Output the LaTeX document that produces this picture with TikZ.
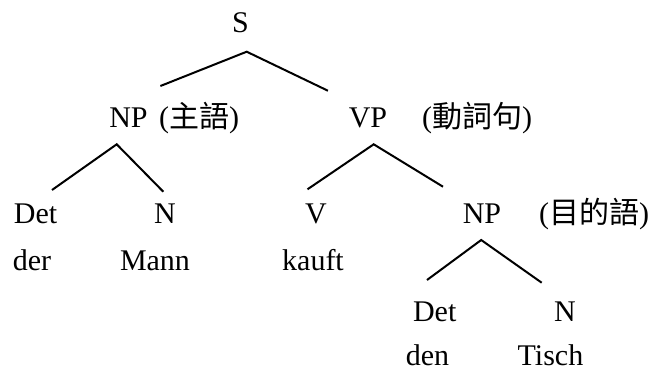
\documentclass[tikz,border=0pt]{standalone}
\usepackage{fontspec}
\setmainfont{Liberation Serif}
\newfontfamily\cjkfont{Noto Sans CJK TC}
\tikzset{
  cat/.style={anchor=base,inner sep=0pt,font=\fontsize{22.5}{27}\selectfont},
  branch/.style={line width=1.5pt},
}

\begin{document}
\begin{tikzpicture}[x=0.75pt,y=-0.75pt]
        \useasboundingbox (0,0) rectangle (651,369);
        %
        % labels
        \node[cat] (S) at (240.5,32) {S};
        \node[cat] (NPa) at (128.5,127) {NP};
        \node[cat] (NPag) at (199,127) {({\cjkfont 主語})};
        \node[cat] (VP) at (368,127) {VP};
        \node[cat] (VPg) at (477,127) {({\cjkfont 動詞句})};
        \node[cat] (Deta) at (35.5,223) {Det};
        \node[cat] (Na) at (165,223) {N};
        \node[cat] (V) at (316,223) {V};
        \node[cat] (NPb) at (482,223) {NP};
        \node[cat] (NPbg) at (594,223) {({\cjkfont 目的語})};
        \node[cat] (der) at (32,270) {der};
        \node[cat] (Mann) at (155,270) {Mann};
        \node[cat] (kauft) at (313,270) {kauft};
        \node[cat] (Detb) at (434.7,321) {Det};
        \node[cat] (Nb) at (565,321) {N};
        \node[cat] (den) at (427.5,365.5) {den};
        \node[cat] (Tisch) at (550.5,365.5) {Tisch};
        %
        % branch ends
        \coordinate (S-t) at (246.7,51.7);
        \coordinate (S-l) at (160.4,86);
        \coordinate (S-r) at (327.9,90.7);
        \coordinate (NPa-t) at (116.7,144.3);
        \coordinate (NPa-l) at (52,190);
        \coordinate (NPa-r) at (163.3,191.7);
        \coordinate (VP-t) at (373.7,144.3);
        \coordinate (VP-l) at (307.5,189.3);
        \coordinate (VP-r) at (443,186.7);
        \coordinate (NPb-t) at (481.2,240);
        \coordinate (NPb-l) at (427,280);
        \coordinate (NPb-r) at (541.7,282.7);
        %
        \draw[branch] (S-l) -- (S-t) -- (S-r);
        \draw[branch] (NPa-l) -- (NPa-t) -- (NPa-r);
        \draw[branch] (VP-l) -- (VP-t) -- (VP-r);
        \draw[branch] (NPb-l) -- (NPb-t) -- (NPb-r);
      \end{tikzpicture}
\end{document}
